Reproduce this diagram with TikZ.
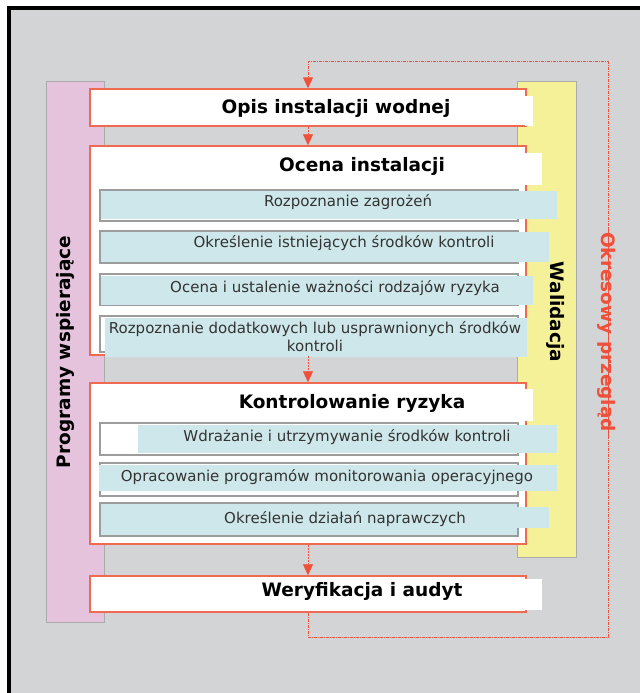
\documentclass[tikz,border=0pt]{standalone}
\usepackage{fontspec}
\setmainfont{DejaVu Sans}
\usetikzlibrary{arrows.meta}
\definecolor{bggray}{HTML}{D3D4D6}
\definecolor{pinkbar}{HTML}{E6C3DC}
\definecolor{yelbar}{HTML}{F5F199}
\definecolor{bargray}{HTML}{ABABAB}
\definecolor{rborder}{HTML}{F06A52}
\definecolor{rarrow}{HTML}{F0503A}
\definecolor{lblue}{HTML}{CEE7EA}
\definecolor{sgray}{HTML}{9C9C9C}
\definecolor{sdark}{HTML}{333333}

\begin{document}
\begin{tikzpicture}[x=1pt,y=-1pt]
\tikzstyle{every node}+=[inner sep=0pt]
\tikzstyle{redbox}=[draw=rborder, line width=1.5pt, fill=white, minimum width=436]
\tikzstyle{subbox}=[draw=sgray, line width=1.5pt, fill=white, minimum width=418]
\tikzstyle{bar}=[draw=bargray, line width=1pt]
\tikzstyle{titletext}=[font=\fontsize{18.5}{21}\selectfont\bfseries]
\tikzstyle{subtext}=[font=\fontsize{15}{18}\selectfont, text=sdark]
\tikzstyle{flow}=[draw=rarrow, line width=0.9pt, dash pattern=on 2pt off 1pt, -{Triangle[width=10pt,length=11pt]}]
\tikzstyle{loopline}=[draw=rarrow, line width=1pt, dash pattern=on 3pt off 1pt on 1pt off 1pt]
\useasboundingbox (0,0) rectangle (640,693);
\fill[white] (0,0) rectangle (640,693);
\fill[bggray] (9,8) rectangle (640,693);
\draw[line width=4pt] (9,693) -- (9,8) -- (640,8);

\node[bar, fill=pinkbar, minimum width=58, minimum height=541] (prog) at (75,351.5) {};
\node[bar, fill=yelbar, minimum width=59, minimum height=476] (wal) at (546.5,319) {};

\node[redbox, minimum height=37] (opis) at (308,107.5) {};
\fill[white] (525,96) rectangle (533,126);
\node[titletext] (opisT) at (336,108) {Opis instalacji wodnej};

\node[redbox, minimum height=209] (ocena) at (308,250.5) {};
\fill[white] (525,153) rectangle (542,185);
\node[titletext] (ocenaT) at (362,166) {Ocena instalacji};
\node[subbox, minimum height=31] (r1) at (309,205.5) {};
\fill[lblue] (101,191) rectangle (557,219);
\node[subtext] (r1T) at (348,202) {Rozpoznanie zagrożeń};
\node[subbox, minimum height=32] (r2) at (309,247) {};
\fill[lblue] (101,232) rectangle (549,262);
\node[subtext] (r2T) at (344,243) {Określenie istniejących środków kontroli};
\node[subbox, minimum height=31] (r3) at (309,289.5) {};
\fill[lblue] (101,276) rectangle (533,305);
\node[subtext] (r3T) at (335,288) {Ocena i ustalenie ważności rodzajów ryzyka};
\node[subbox, minimum height=36] (r4) at (309,334) {};
\fill[lblue] (105,318) rectangle (527,357);
\node[subtext, align=center] (r4T) at (315,337) {Rozpoznanie dodatkowych lub usprawnionych środków\\kontroli};

\node[redbox, minimum height=161] (kontrol) at (308,463.5) {};
\fill[white] (525,389) rectangle (533,421);
\node[titletext] (kontrolT) at (352,403) {Kontrolowanie ryzyka};
\node[subbox, minimum height=32] (k1) at (309,439) {};
\fill[lblue] (138,425) rectangle (557,453);
\node[subtext] (k1T) at (347,437) {Wdrażanie i utrzymywanie środków kontroli};
\node[subbox, minimum height=33] (k2) at (309,479.5) {};
\fill[lblue] (99,465) rectangle (557,491);
\node[subtext] (k2T) at (327,477) {Opracowanie programów monitorowania operacyjnego};
\node[subbox, minimum height=33] (k3) at (309,519.5) {};
\fill[lblue] (101,504) rectangle (517,535);
\fill[lblue] (517,507) rectangle (549,528);
\node[subtext] (k3T) at (345,519) {Określenie działań naprawczych};

\node[redbox, minimum height=36] (weryf) at (308,594) {};
\fill[white] (525,579) rectangle (542,610);
\node[titletext] (weryfT) at (362,591) {Weryfikacja i audyt};

\node[titletext, rotate=90] (progT) at (65,352) {Programy wspierające};
\node[titletext, rotate=-90] (walT) at (556,312) {Walidacja};
\node[titletext, rotate=-90, text=rarrow, inner xsep=4pt] (okres) at (607,332) {Okresowy przegląd};

\draw[flow] (opis.south) -- (ocena.north);
\draw[flow] (ocena.south) -- (kontrol.north);
\draw[flow] (kontrol.south) -- (weryf.north);

\coordinate (lb) at (308,637);
\coordinate (rb) at (608,637);
\coordinate (rt) at (608,62);
\coordinate (lt) at (308,62);
\draw[loopline] (weryf.south) -- (lb) -- (rb) -- (okres.west -| rb);
\draw[loopline, -{Triangle[width=10pt,length=11pt]}] (okres.east -| rt) -- (rt) -- (lt) -- (opis.north);
\end{tikzpicture}
\end{document}
